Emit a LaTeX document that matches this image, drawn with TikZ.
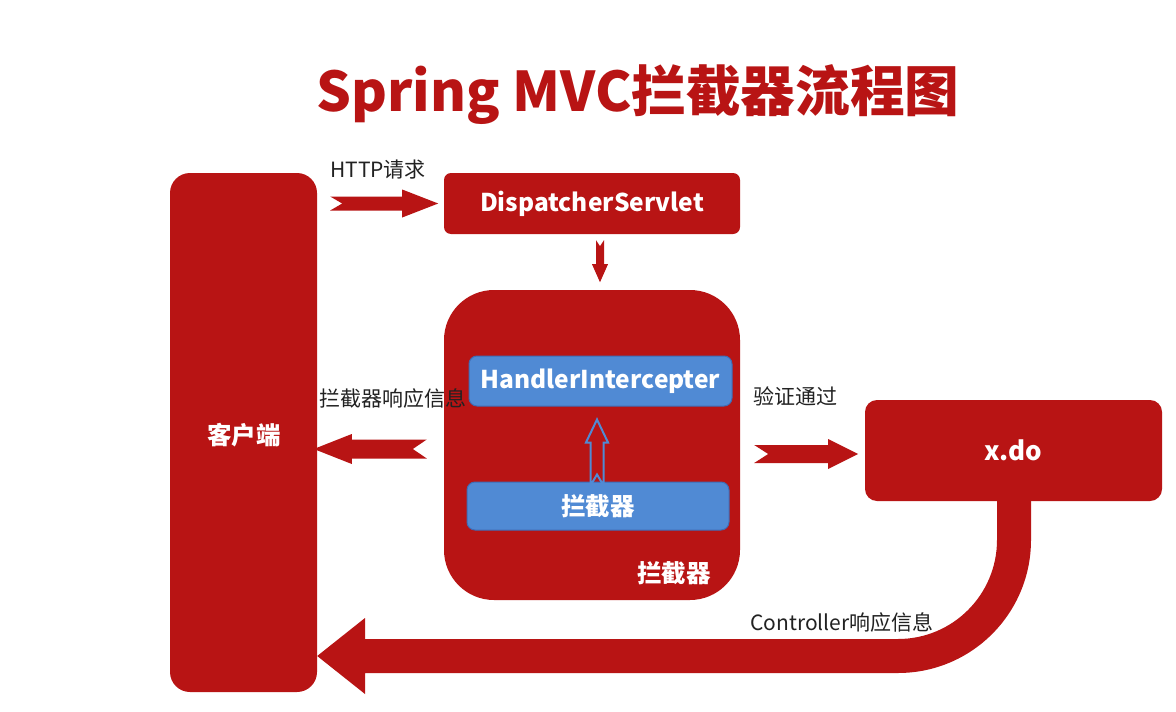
\documentclass[tikz,border=0pt]{standalone}
\usepackage{fontspec}
\setmainfont{Noto Sans CJK SC}
\definecolor{mred}{HTML}{B81414}
\definecolor{mblue}{HTML}{508AD4}
\definecolor{mblueline}{HTML}{3F6CB5}
\definecolor{mtext}{HTML}{222222}
\begin{document}
\begin{tikzpicture}[x=1pt,y=-1pt,
  redbox/.style={fill=mred,draw=none,rounded corners=#1,inner sep=0pt},
  bluebox/.style={fill=mblue,draw=mblueline,line width=1pt,rounded corners=8pt,inner sep=0pt},
  wlabel/.style={text=white,font=\bfseries\fontsize{24.5}{26}\selectfont},
  blabel/.style={text=mtext,font=\fontsize{21}{23}\selectfont},
  pics/notcharrow/.style n args={5}{code={
    % #1 length, #2 head half, #3 shaft half, #4 head length, #5 notch
    \path[pic actions] (0,-#3) -- (#1-#4,-#3) -- (#1-#4,-#2) -- (#1,0) -- (#1-#4,#2) -- (#1-#4,#3) -- (0,#3) -- (#5,0) -- cycle;
  }}]
\useasboundingbox[fill=white] (0,0) rectangle (1176,712);

% title
\node[text=mred,font=\bfseries\fontsize{54.7}{58}\selectfont] (title) at (638,95) {Spring MVC拦截器流程图};

% boxes
\node[redbox=20pt,minimum width=147pt,minimum height=519pt] (client) at (243.5,432.5) {};
\node[wlabel] (clientlbl) at (244,435) {客户端};
\node[redbox=7pt,minimum width=296pt,minimum height=61pt,wlabel] (ds) at (592,203.5) {DispatcherServlet};
\node[redbox=50pt,minimum width=296pt,minimum height=310pt] (ic) at (592,445) {};
\node[wlabel] (iclbl) at (674,573) {拦截器};
\node[bluebox,minimum width=263pt,minimum height=50pt,wlabel] (hi) at (600.5,381) {HandlerIntercepter};
\node[bluebox,minimum width=262pt,minimum height=48pt,wlabel] (lj) at (598,506) {拦截器};
\node[redbox=12pt,minimum width=297pt,minimum height=101pt,wlabel,font=\bfseries\fontsize{26}{28}\selectfont] (xdo) at (1013.5,450.5) {x.do};

% labels
\node[blabel] (l1) at (378,170) {HTTP请求};
\node[blabel] (l2) at (393,398) {拦截器响应信息};
\node[blabel] (l3) at (795,396) {验证通过};
\node[blabel] (l4) at (842,622) {Controller响应信息};

% connectors (block arrows)
\coordinate (a1s) at (client.east |- ds.west);
\pic[fill=mred] at ([xshift=13pt]a1s) {notcharrow={108}{14}{7}{36}{12}};
\coordinate (a2s) at ([yshift=-4pt]ic.west);
\pic[fill=mred,rotate=180] at ([xshift=-17pt]a2s) {notcharrow={113}{15}{9.5}{38}{14}};
\coordinate (a3s) at ([yshift=-9pt]ic.east);
\pic[fill=mred] at ([xshift=14pt]a3s) {notcharrow={104}{15}{9}{30}{14}};
\coordinate (a4s) at ([xshift=8pt]ds.south);
\pic[fill=mred,rotate=-90] at ([yshift=-6pt]a4s) {notcharrow={42}{8}{4}{18}{6}};
\coordinate (a5s) at ([xshift=-1pt]lj.north);
\pic[fill=mred,draw=mblue,line width=2pt,rotate=90] at ([yshift=-4pt]a5s) {notcharrow={66}{11}{6.5}{23}{11}};

% big return arrow from x.do to client
\fill[mred] (997,501) -- (1031,501) -- (1031,540)
  .. controls (1031,613.5) and (971.5,673) .. (898,673)
  -- (365,673) -- (365,694) -- (client.east |- 0,656) -- (365,618) -- (365,639) -- (898,639)
  .. controls (952.7,639) and (997,594.7) .. (997,540) -- cycle;
\end{tikzpicture}
\end{document}
